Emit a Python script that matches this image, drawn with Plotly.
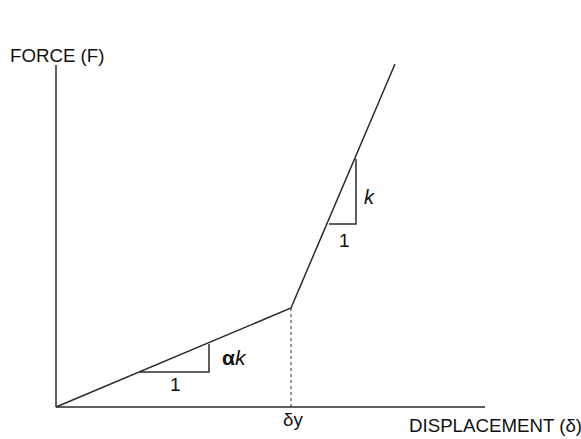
import plotly.graph_objects as go

# Bilinear force-displacement curve (diagram units)
curve_x = [0, 235, 339]
curve_f = [0, 99, 343]

# Yield displacement
delta_y = 235
f_yield = 99

# Slope triangles
tri_low_x = [84, 153, 153]
tri_low_f = [35, 35, 63]
tri_up_x = [273, 300, 300]
tri_up_f = [183, 183, 248]

# Axis extents
x_axis_end = 429
y_axis_end = 342

LINE = "#2a2a2a"
FONT = "Liberation Sans, Arial, sans-serif"

fig = go.Figure()

# axes
fig.add_trace(go.Scatter(x=[0, x_axis_end], y=[0, 0], mode="lines",
                         line=dict(color=LINE, width=1.5), hoverinfo="skip"))
fig.add_trace(go.Scatter(x=[0, 0], y=[0, y_axis_end], mode="lines",
                         line=dict(color=LINE, width=1.5), hoverinfo="skip"))
# dotted yield line
fig.add_trace(go.Scatter(x=[delta_y, delta_y], y=[0, f_yield], mode="lines",
                         line=dict(color=LINE, width=1, dash="dot"), hoverinfo="skip"))
# curve
fig.add_trace(go.Scatter(x=curve_x, y=curve_f, mode="lines",
                         line=dict(color=LINE, width=1.5), hoverinfo="skip"))
# triangles
fig.add_trace(go.Scatter(x=tri_low_x, y=tri_low_f, mode="lines",
                         line=dict(color=LINE, width=1.5), hoverinfo="skip"))
fig.add_trace(go.Scatter(x=tri_up_x, y=tri_up_f, mode="lines",
                         line=dict(color=LINE, width=1.5), hoverinfo="skip"))

labels = [
    dict(x=-48, y=352, text="FORCE (F)", xanchor="left", size=18.7),
    dict(x=351, y=-18, text="DISPLACEMENT (δ)", xanchor="left", size=18.7),
    dict(x=237, y=-12, text="δy", xanchor="center", size=18.7),
    dict(x=119, y=23, text="1", xanchor="center", size=19),
    dict(x=164, y=50, text="<b>α</b><i>k</i>", xanchor="left", size=21),
    dict(x=313, y=210, text="<i>k</i>", xanchor="center", size=20),
    dict(x=288, y=167, text="1", xanchor="center", size=19),
]
for a in labels:
    fig.add_annotation(x=a["x"], y=a["y"], text=a["text"], xanchor=a["xanchor"],
                       yanchor="middle", showarrow=False,
                       font=dict(family=FONT, size=a["size"], color="#111"))

fig.update_layout(
    width=581, height=439,
    margin=dict(l=0, r=0, t=0, b=0),
    paper_bgcolor="white", plot_bgcolor="white",
    showlegend=False,
    xaxis=dict(range=[-56, 525], visible=False, fixedrange=True),
    yaxis=dict(range=[-32, 407], visible=False, fixedrange=True),
)

fig.write_html("out.html", config={"displayModeBar": False})
